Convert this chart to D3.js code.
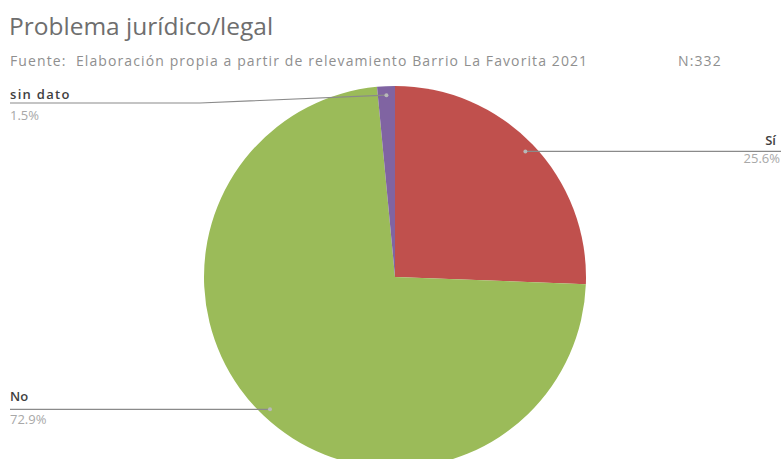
<!DOCTYPE html>
<html>
<head>
<meta charset="utf-8">
<script src="https://cdn.jsdelivr.net/npm/d3@7"></script>
<style>
  html, body { margin: 0; padding: 0; background: #fff; }
  svg { display: block; font-family: "Open Sans", "Noto Sans", sans-serif; }
</style>
</head>
<body>
<svg id="chart" width="781" height="459"></svg>
<script>
// Survey answers: legal/juridical problem, Barrio La Favorita 2021
const categories = ["Sí", "No", "sin dato"];
const percents = [25.6, 72.9, 1.5];
const colors = ["#c0504d", "#9bbb59", "#8064a2"];
const percentLabels = ["25.6%", "72.9%", "1.5%"];

const svg = d3.select("#chart");
const W = 781, H = 459;
const cx = 395, cy = 277, R = 191;

// Title and source line
svg.append("text").attr("x", 9).attr("y", 35)
  .attr("font-size", 24.5).attr("fill", "#6e6e6e")
  .text("Problema jurídico/legal");
svg.append("text").attr("x", 10).attr("y", 66)
  .attr("font-size", 14).attr("fill", "#8f8f8f")
  .attr("letter-spacing", 1.1)
  .attr("xml:space", "preserve")
  .text("Fuente:  Elaboración propia a partir de relevamiento Barrio La Favorita 2021");
svg.append("text").attr("x", 678).attr("y", 66)
  .attr("font-size", 14).attr("fill", "#8f8f8f")
  .attr("letter-spacing", 1.1)
  .text("N:332");

const data = categories.map((c, i) => ({ cat: c, value: percents[i], color: colors[i], label: percentLabels[i] }));

const pie = d3.pie().value(d => d.value).sort(null);
const arc = d3.arc().innerRadius(0).outerRadius(R);
const arcs = pie(data);

const g = svg.append("g").attr("transform", `translate(${cx},${cy})`);
g.selectAll("path").data(arcs).join("path")
  .attr("d", arc)
  .attr("fill", d => d.data.color);

// Leader anchors at a fraction of the radius along each slice's mid-angle
const anchor = (a, r) => {
  const m = (a.startAngle + a.endAngle) / 2;
  return [cx + Math.sin(m) * r, cy - Math.cos(m) * r];
};

const lineColor = "#8a8a8a";
const labelDefs = [
  { i: 0, r: 181, textX: 776, anchorText: "end", pctX: 780, textY: 145, pctY: 163,
    path: p => [[p[0], p[1]], [W, p[1]]] },
  { i: 1, r: 182, textX: 10, anchorText: "start", pctX: 10, textY: 401, pctY: 424,
    path: p => [[p[0], p[1]], [10, p[1]]] },
  { i: 2, r: 182, textX: 10, anchorText: "start", pctX: 10, textY: 99, pctY: 120,
    path: p => [[p[0], p[1]], [200, 103], [10, 103]] }
];

labelDefs.forEach(def => {
  const a = arcs[def.i];
  const p = anchor(a, def.r);
  svg.append("path")
    .attr("d", d3.line()(def.path(p)))
    .attr("fill", "none").attr("stroke", lineColor).attr("stroke-width", 1.2);
  svg.append("circle").attr("cx", p[0]).attr("cy", p[1]).attr("r", 2)
    .attr("fill", "#b8b8b8");
  svg.append("text").attr("x", def.textX).attr("y", def.textY)
    .attr("text-anchor", def.anchorText)
    .attr("font-size", 13).attr("font-weight", 600).attr("fill", "#3f3f3f")
    .attr("letter-spacing", def.i === 2 ? 1.3 : 0)
    .text(a.data.cat);
  svg.append("text").attr("x", def.pctX).attr("y", def.pctY)
    .attr("text-anchor", def.anchorText)
    .attr("font-size", 13).attr("fill", "#a8a8a8")
    .text(a.data.label);
});
</script>
</body>
</html>
